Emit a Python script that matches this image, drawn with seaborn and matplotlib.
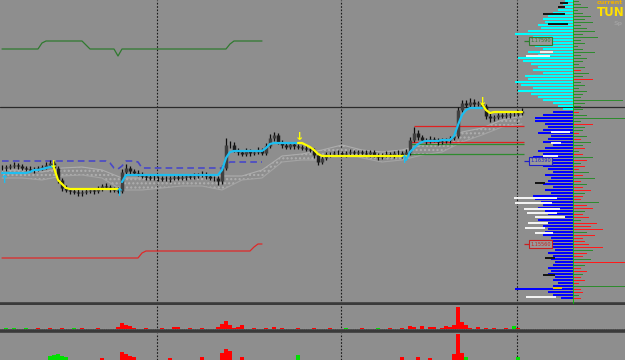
import numpy as np
import pandas as pd
import seaborn as sns
import matplotlib
matplotlib.use("Agg")
import matplotlib.pyplot as plt

sns.set_theme(style="white")
plt.rcParams['font.family'] = ['DejaVu Sans']

BG = "#8e8e8e"

# ---------------- data ----------------
close = [1.1632, 1.1633, 1.1634, 1.1635, 1.1634, 1.1632, 1.1631, 1.1630, 1.1631, 1.1632,
         1.1633, 1.1635, 1.1637, 1.1632, 1.1620, 1.1612, 1.1610, 1.1609, 1.1608, 1.1607,
         1.1608, 1.1609, 1.1610, 1.1609, 1.1611, 1.1614, 1.1613, 1.1611, 1.1610, 1.1609,
         1.1628, 1.1632, 1.1629, 1.1627, 1.1626, 1.1624, 1.1623, 1.1622, 1.1622, 1.1622,
         1.1621, 1.1621, 1.1622, 1.1623, 1.1622, 1.1623, 1.1624, 1.1623, 1.1624, 1.1625,
         1.1626, 1.1624, 1.1622, 1.1622, 1.1619, 1.1632, 1.1655, 1.1655, 1.1650, 1.1648,
         1.1646, 1.1649, 1.1647, 1.1648, 1.1650, 1.1647, 1.1654, 1.1662, 1.1665, 1.1658,
         1.1655, 1.1653, 1.1656, 1.1654, 1.1653, 1.1652, 1.1651, 1.1650, 1.1645, 1.1638,
         1.1642, 1.1646, 1.1646, 1.1647, 1.1647, 1.1646, 1.1647, 1.1648, 1.1647, 1.1648,
         1.1647, 1.1646, 1.1648, 1.1645, 1.1643, 1.1645, 1.1646, 1.1645, 1.1647, 1.1647,
         1.1645, 1.1648, 1.1660, 1.1667, 1.1663, 1.1660, 1.1659, 1.1661, 1.1660, 1.1658,
         1.1659, 1.1660, 1.1662, 1.1664, 1.1690, 1.1697, 1.1695, 1.1698, 1.1696, 1.1697,
         1.1694, 1.1684, 1.1682, 1.1683, 1.1685, 1.1684, 1.1685, 1.1686, 1.1686, 1.1687,
         1.1689]
hi_ext = [3, 2, 2, 3, 2, 2, 2, 3, 2, 2, 2, 3, 3, 2, 2, 2, 3, 2, 2, 3,
          2, 3, 2, 2, 3, 2, 3, 2, 2, 3, 3, 4, 2, 2, 3, 2, 2, 2, 3, 2,
          2, 3, 2, 2, 2, 3, 2, 2, 3, 2, 3, 2, 2, 2, 2, 3, 7, 4, 3, 2,
          2, 3, 2, 2, 3, 2, 3, 4, 3, 2, 2, 3, 2, 2, 2, 2, 3, 2, 2, 2,
          3, 2, 2, 2, 3, 2, 2, 3, 2, 2, 2, 3, 2, 2, 2, 2, 3, 2, 2, 3,
          2, 3, 3, 6, 3, 2, 2, 3, 2, 2, 3, 2, 2, 2, 3, 3, 3, 4, 3, 2,
          2, 2, 3, 2, 2, 2, 3, 2, 2, 3, 3]
lo_ext = [2, 3, 2, 2, 3, 2, 2, 2, 3, 2, 2, 2, 2, 3, 3, 3, 2, 3, 2, 3,
          3, 2, 2, 3, 2, 2, 2, 3, 2, 2, 2, 2, 3, 2, 2, 2, 3, 2, 2, 3,
          2, 2, 3, 2, 2, 2, 3, 2, 2, 2, 2, 3, 2, 3, 4, 3, 2, 3, 2, 3,
          2, 2, 3, 2, 2, 2, 2, 2, 3, 2, 3, 2, 2, 3, 2, 2, 2, 2, 3, 3,
          2, 2, 3, 2, 2, 2, 3, 2, 2, 2, 2, 2, 3, 2, 3, 2, 2, 2, 3, 2,
          3, 4, 3, 2, 3, 2, 3, 2, 2, 3, 2, 2, 3, 2, 2, 2, 2, 2, 3, 2,
          2, 3, 4, 3, 2, 2, 2, 3, 2, 2, 2]

# trailing stop segments (start bar, values)
up_start = [0, 30, 101]
up_vals = [[1.1627] * 7 + [1.1628, 1.1630, 1.1630, 1.1631, 1.1632, 1.1633, 1.1634],
           [1.1618, 1.1625] + [1.1625] * 23 + [1.1630, 1.1642, 1.1648] + [1.1649] * 8
           + [1.1652, 1.1656] + [1.1657] * 7,
           [1.1640, 1.1648, 1.1652, 1.1656, 1.1658] + [1.1659] * 4 + [1.1660] * 3
           + [1.1664, 1.1675, 1.1685, 1.1690] + [1.1692] * 4]
dn_start = [13, 74, 120]
dn_vals = [[1.1632, 1.1620, 1.1616, 1.1612] + [1.1611] * 13,
           [1.1657, 1.1657, 1.1655, 1.1653, 1.1650, 1.1646, 1.1644] + [1.1644] * 21,
           [1.1696, 1.1690, 1.1687] + [1.1688] * 8]
arrow_x = [0.6, 29.5, 100.75, 13, 74.5, 120.25]
arrow_y = [1.1620, 1.1607, 1.1640, 1.1635, 1.1663, 1.1698]
arrow_dir = ["up", "up", "up", "down", "down", "down"]

blue_line = ([1.1639] * 27 + [1.1637, 1.1632, 1.1631, 1.1634] + [1.1639] * 3
             + [1.1638, 1.1632] + [1.1632] * 20 + [1.1635] + [1.1638] * 9)

cloud_x = list(range(0, 131, 5))
span_a = [1.1630, 1.1630, 1.1628, 1.1632, 1.1633, 1.1630, 1.1622, 1.1622, 1.1620, 1.1620,
          1.1624, 1.1624, 1.1624, 1.1630, 1.1644, 1.1646, 1.1650, 1.1655, 1.1650, 1.1648,
          1.1650, 1.1655, 1.1657, 1.1668, 1.1672, 1.1680, 1.1684]
span_b = [1.1622, 1.1622, 1.1620, 1.1624, 1.1625, 1.1622, 1.1610, 1.1610, 1.1612, 1.1614,
          1.1614, 1.1610, 1.1620, 1.1622, 1.1638, 1.1640, 1.1640, 1.1648, 1.1642, 1.1638,
          1.1640, 1.1645, 1.1648, 1.1658, 1.1665, 1.1673, 1.1676]

top_line = ([1.1751] * 10 + [1.1757] + [1.1759] * 10 + [1.1755] + [1.1751] * 7 + [1.1744]
            + [1.1751] * 27 + [1.1756] + [1.1759] * 8)
low_line = [1.1542] * 35 + [1.1547] + [1.1549] * 27 + [1.1553] + [1.1556] * 2

level_full = 1.1693
seg_levels = [1.1674, 1.1658, 1.1656, 1.1646]
seg_start = [103, 102, 102, 101]
seg_colors = ["#e02020", "#e02020", "#2e8b2e", "#2e8b2e"]

session_breaks = [38.75, 84.75, 128.75]

# volume histogram panels: (bar, height, colour)
vol1_bar = [1, 3, 6, 9, 12, 15, 18, 20, 24, 29, 30, 31, 32, 33, 36, 40, 43, 44, 47, 50, 54, 55,
            56, 57, 58, 59, 60, 63, 66, 68, 70, 74, 78, 82, 86, 90, 94, 97, 100, 102, 103, 105,
            107, 108, 110, 111, 112, 113, 114, 115, 116, 117, 119, 121, 123, 126, 128, 129]
vol1_val = [1, 1, 1, 1, 1, 1, 1, 1, 1, 2, 6, 4, 3, 1, 1, 1, 2, 2, 1, 1, 2, 5,
            8, 4, 1, 2, 4, 1, 1, 2, 1, 1, 1, 1, 1, 1, 1, 1, 1, 3, 2, 3,
            2, 2, 1, 3, 2, 4, 22, 7, 4, 1, 2, 1, 1, 1, 3, 1]
vol1_col = list("gggrrrgrr" + "rrrrrrrrrrrrr" + "rrrrrrrrrrrr" + "gr" + "grrrrrrrr" +
                "rrrrrrrrrrr" + "grrrggg")
vol2_bar = [12, 13, 14, 15, 16, 25, 30, 31, 32, 33, 42, 50, 55, 56, 57, 60, 74, 100, 104,
            107, 113, 114, 115, 116, 129]
vol2_val = [8, 9, 10, 8, 7, 6, 12, 10, 8, 7, 6, 7, 11, 15, 13, 7, 9, 7, 7, 6, 10, 30, 11, 7, 7]
vol2_col = list("gggggrrrrrrrrrrrgrrrrrrgg")

# volume profile (rows of 3 px, from the top of the chart)
prof_left = [8, 10, 12, 15, 20, 25, 30, 28, 35, 32, 45, 58, 40, 35, 30, 38, 30, 45, 35, 55,
             50, 42, 35, 40, 30, 48, 45, 58, 52, 40, 55, 42, 35, 30, 20, 15, 10, 20, 30, 38,
             38, 28, 25, 30, 35, 22, 25, 30, 20, 28, 35, 30, 40, 28, 25, 30, 25, 20, 28, 22,
             25, 30, 20, 28, 22, 40, 38, 32, 30, 35, 28, 25, 30, 35, 28, 30, 25, 28, 30, 22,
             25, 20, 22, 18, 25, 20, 22, 18, 20, 25, 22, 25, 18, 20, 15, 20, 58, 25, 20, 12]
prof_right = [6, 8, 15, 5, 10, 18, 12, 20, 8, 14, 22, 10, 25, 8, 12, 5, 10, 22, 8, 14,
              10, 6, 12, 8, 16, 10, 20, 8, 12, 6, 14, 10, 8, 50, 12, 8, 10, 6, 14, 52,
              8, 20, 12, 10, 6, 14, 8, 18, 10, 12, 6, 10, 20, 14, 8, 12, 6, 16, 10, 22,
              8, 14, 10, 18, 12, 10, 8, 26, 14, 20, 12, 10, 16, 8, 24, 18, 30, 14, 22, 10,
              12, 16, 30, 20, 14, 10, 18, 52, 12, 8, 14, 10, 8, 12, 6, 52, 8, 10, 6, 8]
prof_right_col = list("gggggggggg" "gggggggggg" "gggrggrggg" "gggggggrgg" "grggrgrggr"
                      "grgrgrrgrg" "rgrrgrrgrr" "grrgrrrgrr" "rrrgrrgrgr" "rgrrrgrrgr")
ov_price = [1.1797, 1.1793, 1.1786, 1.1776, 1.1748, 1.1744, 1.1668, 1.1657, 1.1644, 1.1617,
            1.1602, 1.1597, 1.1591, 1.1587, 1.1583, 1.1577, 1.1572, 1.1567, 1.1542, 1.1525,
            1.1512, 1.1503]
ov_x0 = [-13, -15, -30, -25, -33, -47, -22, -22, -30, -38, -59, -58, -49, -46, -38, -45,
         -48, -38, -28, -30, -20, -47]
ov_x1 = [-5, -8, -8, -5, -20, -23, -3, -12, -15, -28, -16, -21, -13, -16, -8, -25,
         -28, -20, -18, -18, -11, -17]
ov_col = list("kkkkwwwwwkwwwwwwwwkkyw")

label_price = [1.1759, 1.1639, 1.1556]
label_text = ["1.17590", "1.16390", "1.15560"]
label_color = ["#2e7d2e", "#2020c8", "#c82020"]

# ---------------- figure ----------------
W, H = 625, 360
fig = plt.figure(figsize=(6.25, 3.6), dpi=100)
fig.patch.set_facecolor(BG)


def fa(x0, y0, x1, y1, **kw):
    return fig.add_axes([x0 / W, 1 - y1 / H, (x1 - x0) / W, (y1 - y0) / H], **kw)


PTOP, PBOT = 1.1800, 1.1800 - 304 / 10000
XL = (-0.5, 155.75)

ax = fa(0, 0, 625, 304)
ax.set_facecolor(BG)
ax.set_xlim(*XL)
ax.set_ylim(PBOT, PTOP)

n = len(close)
idx = np.arange(n)
c = np.array(close)
o = np.r_[c[0], c[:-1]]
hi = np.maximum(o, c) + np.array(hi_ext) / 10000
lo = np.minimum(o, c) - np.array(lo_ext) / 10000

for b in session_breaks:
    ax.axvline(b, color="#1a1a1a", ls=(0, (1.5, 1.5)), lw=0.8, zorder=1)

ax.axhline(level_full, color="#2a2a2a", lw=0.9, zorder=2)

# cloud
cdf = pd.DataFrame({"bar": cloud_x, "a": span_a, "b": span_b})
ax.fill_between(cdf["bar"], cdf["a"], cdf["b"], facecolor="none", edgecolor="#b0b0b0",
                hatch="....", lw=0, zorder=2)
sns.lineplot(data=cdf, x="bar", y="a", ax=ax, color="#adadad", lw=0.8, zorder=3)
sns.lineplot(data=cdf, x="bar", y="b", ax=ax, color="#a4a4a4", lw=0.8, zorder=3)

# top and bottom lines
tdf = pd.DataFrame({"bar": np.arange(len(top_line)), "v": top_line})
sns.lineplot(data=tdf, x="bar", y="v", ax=ax, color="#2f7a2f", lw=0.9, zorder=3)
ldf = pd.DataFrame({"bar": np.arange(len(low_line)), "v": low_line})
sns.lineplot(data=ldf, x="bar", y="v", ax=ax, color="#e02828", lw=0.9, zorder=3)

# blue dashed
bdf = pd.DataFrame({"bar": np.arange(len(blue_line)), "v": blue_line})
sns.lineplot(data=bdf, x="bar", y="v", ax=ax, color="#4848c8", lw=1.2, ls=(0, (4, 2.5)), zorder=3)

# level segments
for lv, st, col in zip(seg_levels, seg_start, seg_colors):
    ax.hlines(lv, st, 130.5, color=col, lw=0.9, zorder=3)

# candles
ax.vlines(idx, lo, hi, color="#0d0d0d", lw=0.9, zorder=5)
up = c >= o
ax.vlines(idx[up], o[up] - 0.00004, c[up] + 0.00004, color="#404040", lw=2.5, zorder=6)
ax.vlines(idx[~up], c[~up] - 0.00004, o[~up] + 0.00004, color="#1e1e1e", lw=2.5, zorder=6)

# trailing stops
for st, vals in zip(up_start, up_vals):
    d = pd.DataFrame({"bar": np.arange(st, st + len(vals)), "v": vals})
    sns.lineplot(data=d, x="bar", y="v", ax=ax, color="#1ebef0", lw=1.6, zorder=7)
for st, vals in zip(dn_start, dn_vals):
    d = pd.DataFrame({"bar": np.arange(st, st + len(vals)), "v": vals})
    sns.lineplot(data=d, x="bar", y="v", ax=ax, color="#ffff00", lw=1.6, zorder=7)
for xx, yy, dr in zip(arrow_x, arrow_y, arrow_dir):
    if dr == "up":
        ax.text(xx, yy, "\u2191", color="#1ebef0", fontsize=8, fontweight="bold",
                ha="center", va="center", zorder=8)
    else:
        ax.text(xx, yy, "\u2193", color="#ffff00", fontsize=8, fontweight="bold",
                ha="center", va="center", zorder=8)

ax.set_xticks([]); ax.set_yticks([])
ax.set_xlabel(""); ax.set_ylabel("")
for s in ["top", "left", "right"]:
    ax.spines[s].set_visible(False)
ax.spines["bottom"].set_color("#3a3a3a")
ax.spines["bottom"].set_linewidth(2.6)

# ---------------- volume profile ----------------
pa = fa(500, 0, 625, 304)
pa.patch.set_alpha(0)
pa.set_xlim(-73, 52)
pa.set_ylim(PBOT, PTOP)
rows_l = PTOP - (1 + 3 * np.arange(len(prof_left))) / 10000
rows_r = PTOP - (1.5 + 3 * np.arange(len(prof_right))) / 10000
lcol = ["#00ffff" if r > 1.1690 else "#0000ff" for r in rows_l]
pa.barh(rows_l, -np.array(prof_left), height=0.0002, color=lcol, lw=0)
rc = ["#2e8b2e" if k == "g" else "#ff1a1a" for k in prof_right_col]
pa.barh(rows_r, prof_right, height=0.0001, color=rc, lw=0)
cmap = {"k": "#151515", "w": "#f2f2f2", "y": "#e8c000"}
pa.barh(ov_price, np.array(ov_x1) - np.array(ov_x0), left=ov_x0, height=0.0002,
        color=[cmap[k] for k in ov_col], lw=0)
pa.axvline(0, color="#00c000", lw=0.6)
for lp, lt, lc in zip(label_price, label_text, label_color):
    pa.hlines(lp, -49, -43, color=lc, lw=0.9)
    pa.text(-32.5, lp, lt, fontsize=3.6, color=lc, ha="center", va="center",
            bbox=dict(boxstyle="square,pad=0.25", fc="#9a9a9a", ec=lc, lw=0.8))
pa.axis("off")

fig.text(597 / W, 1 - 0.5 / H, "current", color="#f0b000", fontsize=4.5, fontweight="bold",
         ha="left", va="top")
fig.text(597 / W, 1 - 6.5 / H, "TUN", color="#ffe000", fontsize=8.5, fontweight="bold",
         ha="left", va="top")
fig.text(614 / W, 1 - 23.5 / H, "Sp", color="#a0a0a0", fontsize=4.5, fontweight="bold",
         ha="left", va="center")

# ---------------- sub panels ----------------
a2 = fa(0, 305, 625, 331)
a2.set_facecolor(BG)
a2.set_xlim(*XL)
a2.set_ylim(-2, 24)
a2.axhline(0, color="#c8c8c8", lw=0.8, ls=(0, (1, 1)))
a2.bar(vol1_bar, vol1_val, width=0.9, color=["#ff0000" if k == "r" else "#00e000" for k in vol1_col],
       lw=0, zorder=3)
for b in session_breaks:
    a2.axvline(b, color="#1a1a1a", ls=(0, (1.5, 1.5)), lw=0.8)
a2.set_xticks([]); a2.set_yticks([])
for s in ["top", "left", "right"]:
    a2.spines[s].set_visible(False)
a2.spines["bottom"].set_color("#3a3a3a")
a2.spines["bottom"].set_linewidth(2.6)

a3 = fa(0, 333, 625, 360)
a3.set_facecolor(BG)
a3.set_xlim(*XL)
a3.set_ylim(4, 31)
a3.bar(vol2_bar, vol2_val, width=0.9, color=["#ff0000" if k == "r" else "#00e000" for k in vol2_col],
       lw=0, zorder=3)
for b in session_breaks:
    a3.axvline(b, color="#1a1a1a", ls=(0, (1.5, 1.5)), lw=0.8)
a3.set_xticks([]); a3.set_yticks([])
for s in ["top", "left", "right", "bottom"]:
    a3.spines[s].set_visible(False)

fig.savefig("out.png", dpi=100, facecolor=BG)
